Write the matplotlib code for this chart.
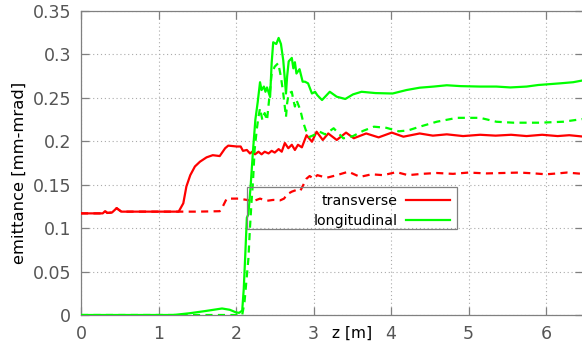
import matplotlib
matplotlib.use("Agg")
import matplotlib.pyplot as plt
from matplotlib.patches import Rectangle

# ---------------- data ----------------
trans_solid_z = [0.0, 0.28, 0.31, 0.34, 0.40, 0.46, 0.52, 1.0, 1.26, 1.32, 1.36, 1.41, 1.47,
                 1.535, 1.62, 1.70, 1.79, 1.86, 1.90, 2.01, 2.06, 2.09, 2.14, 2.18, 2.21,
                 2.245, 2.29, 2.33, 2.37, 2.42, 2.46, 2.50, 2.55, 2.59, 2.63, 2.675, 2.72,
                 2.76, 2.80, 2.85, 2.91, 2.98, 3.04, 3.12, 3.19, 3.30, 3.42, 3.52, 3.68,
                 3.84, 4.01, 4.16, 4.37, 4.54, 4.72, 4.93, 5.15, 5.35, 5.55, 5.75, 5.95,
                 6.15, 6.30, 6.47]
trans_solid = [0.117, 0.117, 0.1195, 0.1175, 0.118, 0.123, 0.119, 0.119, 0.119, 0.1286,
               0.148, 0.161, 0.171, 0.1765, 0.1815, 0.184, 0.183, 0.192, 0.195, 0.194,
               0.194, 0.189, 0.190, 0.186, 0.188, 0.185, 0.188, 0.185, 0.188, 0.186,
               0.189, 0.187, 0.191, 0.188, 0.198, 0.192, 0.196, 0.190, 0.196, 0.193,
               0.207, 0.1995, 0.211, 0.2015, 0.209, 0.2015, 0.210, 0.2035, 0.209, 0.2045,
               0.210, 0.2053, 0.209, 0.2065, 0.208, 0.206, 0.2075, 0.2065, 0.2075, 0.206,
               0.2075, 0.206, 0.207, 0.2055]

trans_dash_z = [0.0, 0.28, 0.31, 0.34, 0.40, 0.46, 0.52, 1.0, 1.5, 1.79, 1.83, 1.88, 2.03,
                2.14, 2.22, 2.31, 2.40, 2.48, 2.57, 2.62, 2.66, 2.72, 2.78, 2.83, 2.87,
                2.91, 2.95, 3.00, 3.05, 3.17, 3.30, 3.45, 3.60, 3.75, 3.90, 4.07, 4.22,
                4.40, 4.59, 4.80, 5.00, 5.23, 5.45, 5.66, 5.85, 6.00, 6.15, 6.27, 6.47]
trans_dash = [0.117, 0.117, 0.1195, 0.1175, 0.118, 0.123, 0.119, 0.119, 0.119, 0.1195,
              0.125, 0.134, 0.134, 0.1325, 0.131, 0.134, 0.1315, 0.1325, 0.132, 0.134,
              0.139, 0.142, 0.144, 0.143, 0.150, 0.157, 0.160, 0.157, 0.161, 0.158,
              0.161, 0.165, 0.159, 0.162, 0.161, 0.1645, 0.161, 0.1625, 0.1635, 0.1625,
              0.164, 0.163, 0.1635, 0.164, 0.163, 0.162, 0.163, 0.164, 0.1625]

long_solid_z = [0.0, 1.19, 1.4, 1.6, 1.82, 1.92, 2.0, 2.04, 2.08, 2.10, 2.12, 2.14, 2.16,
                2.19, 2.22, 2.25, 2.28, 2.31, 2.33, 2.36, 2.38, 2.40, 2.44, 2.46, 2.48,
                2.52, 2.55, 2.58, 2.61, 2.645, 2.66, 2.68, 2.72, 2.74, 2.76, 2.78, 2.82,
                2.86, 2.89, 2.93, 2.98, 3.02, 3.05, 3.11, 3.21, 3.30, 3.41, 3.51, 3.62,
                3.80, 4.02, 4.20, 4.37, 4.55, 4.72, 4.90, 5.15, 5.36, 5.54, 5.75, 5.90,
                6.18, 6.35, 6.47]
long_solid = [0.0, 0.0, 0.002, 0.0045, 0.0075, 0.006, 0.003, 0.0025, 0.005, 0.03, 0.07,
              0.112, 0.116, 0.150, 0.19, 0.225, 0.245, 0.268, 0.259, 0.263, 0.257, 0.262,
              0.251, 0.29, 0.314, 0.312, 0.319, 0.312, 0.293, 0.255, 0.275, 0.292, 0.296,
              0.284, 0.291, 0.278, 0.283, 0.2686, 0.2686, 0.2667, 0.255, 0.257, 0.253,
              0.2475, 0.257, 0.2513, 0.2487, 0.254, 0.257, 0.2555, 0.255, 0.259, 0.2617,
              0.263, 0.2645, 0.2635, 0.263, 0.263, 0.262, 0.263, 0.2648, 0.2667, 0.268,
              0.270]

long_dash_z = [0.0, 2.08, 2.11, 2.14, 2.16, 2.18, 2.20, 2.22, 2.24, 2.27, 2.29, 2.31, 2.34,
               2.37, 2.40, 2.44, 2.46, 2.50, 2.545, 2.58, 2.61, 2.645, 2.66, 2.68, 2.72,
               2.74, 2.76, 2.78, 2.83, 2.87, 2.90, 2.95, 3.00, 3.08, 3.15, 3.26, 3.385,
               3.51, 3.64, 3.78, 3.94, 4.10, 4.22, 4.37, 4.59, 4.85, 5.15, 5.36, 5.58,
               5.92, 6.22, 6.47]
long_dash = [0.0, 0.0, 0.015, 0.045, 0.065, 0.10, 0.13, 0.155, 0.19, 0.215, 0.228, 0.238,
             0.2245, 0.2325, 0.224, 0.259, 0.278, 0.286, 0.290, 0.274, 0.255, 0.228, 0.244,
             0.255, 0.257, 0.2475, 0.240, 0.2475, 0.236, 0.221, 0.213, 0.205, 0.207, 0.211,
             0.208, 0.215, 0.2034, 0.206, 0.212, 0.2168, 0.2155, 0.2115, 0.2125, 0.2168,
             0.2225, 0.227, 0.227, 0.2225, 0.2214, 0.2214, 0.2225, 0.2256]

x_ticks = [0, 1, 2, 3, 4, 5, 6]
y_ticks = [0, 0.05, 0.1, 0.15, 0.2, 0.25, 0.3, 0.35]
y_tick_labels = ["0", "0.05", "0.1", "0.15", "0.2", "0.25", "0.3", "0.35"]
legend_labels = ["transverse", "longitudinal"]

# ---------------- figure ----------------
W, H = 582, 348
fig = plt.figure(figsize=(W / 100, H / 100), dpi=100)
ax_l, ax_r, ax_t, ax_b = 81, 582.5, 11, 315
ax = fig.add_axes([ax_l / W, 1 - ax_b / H, (ax_r - ax_l) / W, (ax_b - ax_t) / H])

RED = "#ff0000"
GREEN = "#00ff00"
LW = 1.6
DASH = (3.2, 2.4)

l1, = ax.plot(trans_solid_z, trans_solid, color=RED, lw=LW, zorder=3)
ax.plot(trans_dash_z, trans_dash, color=RED, lw=LW, dashes=DASH, zorder=3)
l2, = ax.plot(long_solid_z, long_solid, color=GREEN, lw=LW, zorder=3)
ax.plot(long_dash_z, long_dash, color=GREEN, lw=LW, dashes=DASH, zorder=3)

ax.set_xlim(0, (ax_r - ax_l) / 77.5)
ax.set_ylim(0, 0.35)
ax.set_xticks(x_ticks)
ax.set_yticks(y_ticks)
ax.set_yticklabels(y_tick_labels)

spine_c = "#808080"
for s in ax.spines.values():
    s.set_color(spine_c)
    s.set_linewidth(0.9)
ax.tick_params(direction="in", length=5.5, width=0.9, color=spine_c,
               top=True, right=True, labelsize=12.5, labelcolor="#555555")
ax.tick_params(axis="x", pad=7)
ax.tick_params(axis="y", pad=7)
ax.grid(True, color="#aaaaaa", lw=0.8, linestyle=(0, (1, 2.5)))
ax.set_axisbelow(True)

ax.set_ylabel("emittance [mm-mrad]", fontsize=11.8, color="black")
ax.yaxis.set_label_coords((27 - ax_l) / (ax_r - ax_l), (ax_b - 172.5) / (ax_b - ax_t))
ax.text(3.5, (ax_b - 333) / (ax_b - ax_t), "z [m]", transform=ax.get_xaxis_transform(),
        ha="center", va="center", fontsize=11.2, color="black")

# legend frame (gnuplot style, transparent)
bx0 = (247.3 - ax_l) / (ax_r - ax_l)
bx1 = (456.7 - ax_l) / (ax_r - ax_l)
by1 = (ax_b - 187.3) / (ax_b - ax_t)
by0 = (ax_b - 229.3) / (ax_b - ax_t)
ax.add_patch(Rectangle((bx0, by0), bx1 - bx0, by1 - by0, transform=ax.transAxes,
                       fill=False, edgecolor=spine_c, lw=0.9, zorder=4))
leg = ax.legend([l1, l2], legend_labels, loc="upper right", bbox_to_anchor=(bx1, by1),
                bbox_transform=ax.transAxes, frameon=False, markerfirst=False,
                fontsize=10.2, handlelength=3.1, handletextpad=0.65,
                borderaxespad=0, borderpad=0.45, labelspacing=0.42)
for h in leg.legend_handles:
    h.set_linewidth(LW)

fig.savefig("out.png", dpi=100)
